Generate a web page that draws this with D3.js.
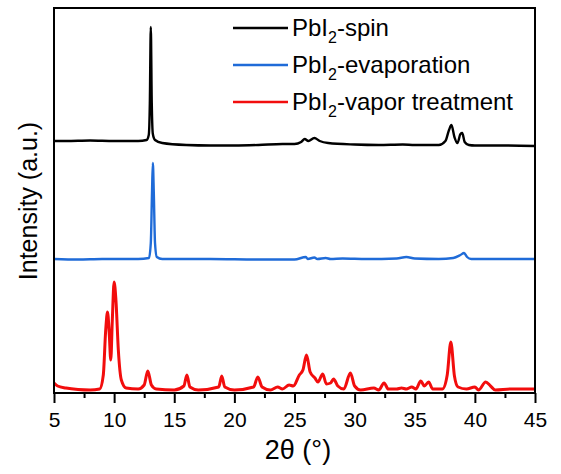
<!DOCTYPE html>
<html>
<head>
<meta charset="utf-8">
<script src="https://cdn.jsdelivr.net/npm/d3@7"></script>
<style>
    body { margin: 0; background: #fff; }
    text { font-family: Arial, "Liberation Sans", sans-serif; fill: #000; }
</style>
</head>
<body>
<svg id="chart" width="561" height="474"></svg>
<script>
// 2theta (deg) and stacked intensity (a.u.)
var spinAngle = [5, 6, 8, 10, 12, 12.7, 12.88, 12.97, 13.05, 13.13, 13.22, 13.4, 14, 16, 18, 20, 22, 24, 25, 25.55, 25.85, 26.15, 26.65, 27.1, 27.8, 30, 32, 34, 35, 37, 37.55, 37.85, 38.05, 38.3, 38.55, 38.8, 38.95, 39.15, 39.5, 40, 42, 45];
var spinValue = [252, 252, 252.5, 252, 252, 253, 258, 290, 366, 290, 259, 253, 250, 248, 247.5, 247.5, 248, 249, 249, 251, 254, 252, 255, 252, 250, 248.5, 248, 248.5, 248, 248, 252, 263, 268, 256, 250, 259, 260, 251, 248, 247.5, 247.5, 247];

var evapAngle = [5, 7, 9, 12, 12.9, 13.05, 13.15, 13.22, 13.3, 13.4, 13.55, 14, 18, 22, 25, 25.95, 26.1, 26.65, 26.9, 27.6, 28, 29, 31, 33.5, 34.3, 35, 37, 38.2, 38.8, 39.1, 39.35, 39.7, 42, 45];
var evapValue = [134, 133.5, 134, 134, 135, 150, 200, 230, 200, 150, 136, 134, 134, 133.5, 133.5, 136, 134, 135.5, 134, 135, 134, 134.5, 134, 134.5, 136, 134.5, 134, 135, 138, 140, 136, 134, 134, 134];

var vaporAngle = [5, 5.3, 6, 7, 8, 8.8, 9.1, 9.3, 9.45, 9.6, 9.72, 9.85, 10, 10.15, 10.35, 10.6, 11, 12, 12.5, 12.8, 13.1, 13.5, 15, 15.8, 16.05, 16.3, 17, 18.7, 18.95, 19.2, 20, 21.6, 21.95, 22.3, 23, 23.6, 24, 24.55, 24.9, 25.4, 25.7, 26, 26.3, 26.7, 26.95, 27.35, 27.65, 28, 28.25, 28.6, 29.1, 29.65, 30, 30.5, 31.6, 32, 32.45, 32.8, 33.5, 33.9, 34.3, 34.75, 35.1, 35.5, 35.8, 36.15, 36.5, 37.3, 37.7, 38, 38.3, 38.6, 39.3, 40, 40.3, 40.9, 41.3, 41.7, 43, 45];
var vaporValue = [10, 7, 5, 3.5, 3, 4, 18, 63, 81, 58, 33, 73, 111, 93, 43, 13, 5, 4, 8, 22, 8, 4, 3, 7, 18, 6, 3, 6, 17, 6, 3, 6, 16, 6, 3, 6, 4, 8, 7, 18, 23, 38, 21, 15, 11, 19, 9, 10, 14, 7, 4, 20, 7, 3, 5, 3, 10, 4, 4, 5, 4, 6, 4, 12, 7, 11, 4, 4, 18, 51, 17, 6, 4, 6, 3, 11, 7, 3, 4, 4];

var seriesNames = ["-spin", "-evaporation", "-vapor treatment"];
var seriesColors = ["#000000", "#1f6bd8", "#f20d0d"];
var xTicks = [5, 10, 15, 20, 25, 30, 35, 40, 45];
var xMinorTicks = [7.5, 12.5, 17.5, 22.5, 27.5, 32.5, 37.5, 42.5];

function zipSeries(angles, values) {
    return angles.map(function (a, i) {
        return { angle: a, value: values[i] };
    });
}

var series = [
    { data: zipSeries(spinAngle, spinValue), width: 2.4 },
    { data: zipSeries(evapAngle, evapValue), width: 2.4 },
    { data: zipSeries(vaporAngle, vaporValue), width: 3 }
];

var svg = d3.select("#chart");
var margin = { top: 8, right: 26, bottom: 81, left: 54 };
var width = 561 - margin.left - margin.right;
var height = 474 - margin.top - margin.bottom;

var x = d3.scaleLinear().domain([5, 45]).range([0, width]);
var y = d3.scaleLinear().domain([0, 385]).range([height, 0]);

var g = svg.append("g")
    .attr("transform", "translate(" + margin.left + "," + margin.top + ")");

var line = d3.line()
    .x(function (d) { return x(d.angle); })
    .y(function (d) { return y(d.value); })
    .curve(d3.curveMonotoneX);

g.selectAll("path.trace")
    .data(series)
    .enter().append("path")
    .attr("class", "trace")
    .attr("fill", "none")
    .attr("stroke", function (d, i) { return seriesColors[i]; })
    .attr("stroke-width", function (d) { return d.width; })
    .attr("stroke-linejoin", "round")
    .attr("d", function (d) { return line(d.data); });

// minor ticks first, major axis on top
g.append("g")
    .attr("transform", "translate(0," + height + ")")
    .call(d3.axisBottom(x).tickValues(xMinorTicks).tickSize(5).tickFormat(""))
    .call(function (a) { a.select(".domain").remove(); })
    .selectAll("line").attr("stroke-width", 2);

var xAxis = g.append("g")
    .attr("transform", "translate(0," + height + ")")
    .call(d3.axisBottom(x).tickValues(xTicks).tickSize(10).tickPadding(9).tickFormat(d3.format("d")));
xAxis.select(".domain").remove();
xAxis.selectAll("line").attr("stroke-width", 2);
xAxis.selectAll("text")
    .style("font-family", "Arial, 'Liberation Sans', sans-serif")
    .style("font-size", "21px")
    .attr("fill", "#000");

g.append("rect")
    .attr("width", width)
    .attr("height", height)
    .attr("fill", "none")
    .attr("stroke", "#000")
    .attr("stroke-width", 2);

svg.append("text")
    .attr("x", 298)
    .attr("y", 459)
    .attr("text-anchor", "middle")
    .style("font-size", "27px")
    .text("2\u03b8 (\u00b0)");

svg.append("text")
    .attr("transform", "translate(37,201) rotate(-90)")
    .attr("text-anchor", "middle")
    .style("font-size", "25px")
    .text("Intensity (a.u.)");

// legend
var legend = svg.append("g").attr("transform", "translate(233,28)");
var rows = legend.selectAll("g")
    .data(seriesNames)
    .enter().append("g")
    .attr("transform", function (d, i) { return "translate(0," + (i * 37) + ")"; });

rows.append("line")
    .attr("x1", 0).attr("x2", 55)
    .attr("stroke", function (d, i) { return seriesColors[i]; })
    .attr("stroke-width", 2.4);

var label = rows.append("text")
    .attr("x", 59)
    .attr("y", 8)
    .style("font-size", "24px");
label.append("tspan").text("PbI");
label.append("tspan").attr("dy", 7).style("font-size", "16px").text("2");
label.append("tspan").attr("dy", -7).text(function (d) { return d; });
</script>
</body>
</html>
